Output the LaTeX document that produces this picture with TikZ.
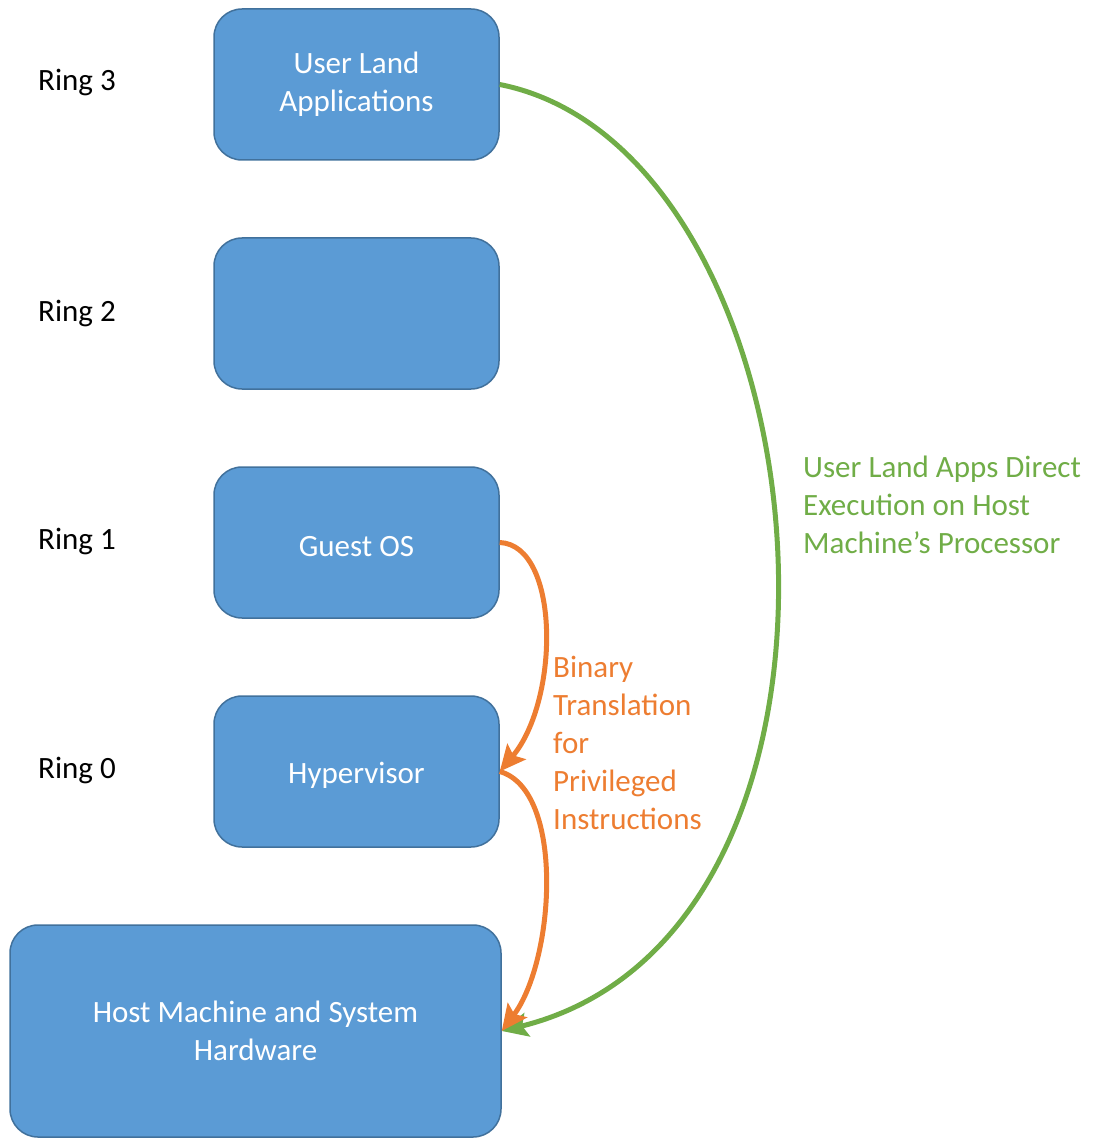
\documentclass[tikz,border=0pt]{standalone}
\usepackage{fontspec}
\setmainfont{Carlito}
\usetikzlibrary{arrows.meta}
\definecolor{ringblue}{HTML}{5B9BD5}
\definecolor{ringedge}{HTML}{41719C}
\definecolor{execgreen}{HTML}{70AD47}
\definecolor{transorange}{HTML}{ED7D31}
\tikzset{
  ringbox/.style={draw=ringedge, line width=1.5pt, fill=ringblue, rounded corners=28pt,
    minimum width=285pt, minimum height=151pt, text=white, align=center,
    font=\fontsize{31}{38}\selectfont, execute at begin node={\rule{0pt}{28pt}}},
  ringlabel/.style={anchor=west, inner sep=0pt, font=\fontsize{31}{38}\selectfont},
  notelabel/.style={anchor=west, inner sep=0pt, align=left, font=\fontsize{31}{38}\selectfont},
  flow/.style={line width=5pt, -{Stealth[length=26pt, width=24pt, inset=5pt]}}
}
\begin{document}
\begin{tikzpicture}[x=1pt, y=-1pt]
        \useasboundingbox (0, 0) rectangle (1093, 1139);
        % ring boxes
        \node[ringbox] (apps) at (356.5, 84.5) {User Land\\Applications};
        \node[ringbox] (empty) at (356.5, 313.5) {};
        \node[ringbox] (guest) at (356.5, 542.5) {Guest OS};
        \node[ringbox] (hyper) at (356.5, 771.5) {Hypervisor};
        \node[ringbox, minimum width=491pt, minimum height=212pt] (host) at (255.5, 1031) {Host Machine and System\\Hardware};

        \node[ringlabel] (ring3) at (38, 83) {Ring 3};
        \node[ringlabel] (ring2) at (38, 313) {Ring 2};
        \node[ringlabel] (ring1) at (38, 541) {Ring 1};
        \node[ringlabel] (ring0) at (38, 770) {Ring 0};

        % direct execution
        \draw[flow, execgreen] (apps.east) .. controls (830, 150) and (903, 932) .. (host.east);
        \node[notelabel, text=execgreen] (directnote) at (803, 505) {User Land Apps Direct\\Execution on Host\\Machine’s Processor};

        % binary translation
        \draw[flow, transorange] (guest.east) .. controls (560, 545) and (560, 700) .. (hyper.east);
        \draw[flow, transorange] (hyper.east) .. controls (565, 790) and (555, 960) .. (host.east);
        \node[notelabel, text=transorange] (transnote) at (553, 743) {Binary\\Translation\\for\\Privileged\\Instructions};
    \end{tikzpicture}
\end{document}
